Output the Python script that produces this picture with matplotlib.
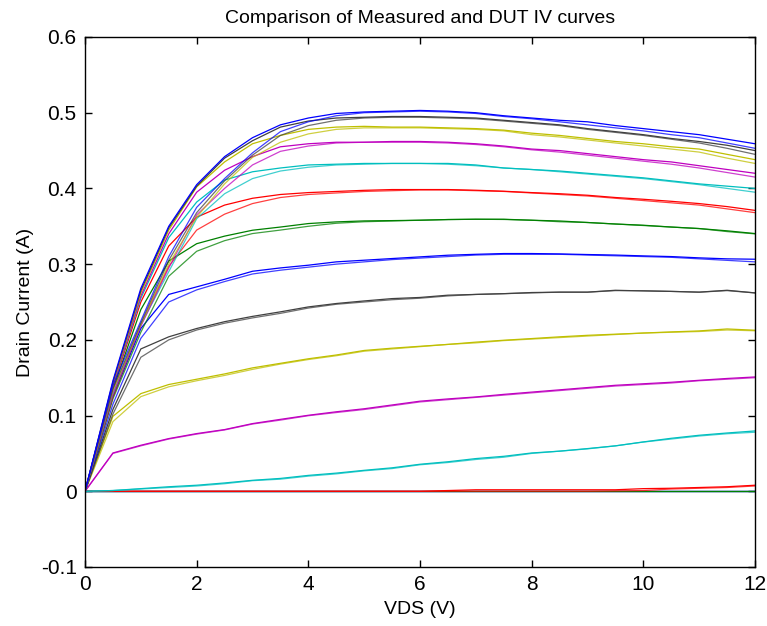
import matplotlib
matplotlib.use("Agg")
import matplotlib.pyplot as plt
import numpy as np

plt.rcParams['font.family'] = ['Liberation Sans', 'DejaVu Sans']

vds = np.arange(0, 12.01, 0.5)

# Gate-voltage levels from lowest to highest; each has a measured and a DUT curve
colors = ['b', 'g', 'r', 'c', 'm', 'y', 'k', 'b', 'g', 'r', 'c', 'm', 'y', 'k', 'b']

zero = [0.0] * 25

red1_meas = [0]*13 + [.001, .002, .002, .002, .002, .002, .002, .0035, .004, .005, .006, .008]
red1_dut  = [0]*19 + [.0005, .001, .003, .004, .005, .007]

cyan2_meas = [0, .001, .0035, .006, .008, .011, .0145, .017, .021, .024, .0277, .031, .0357, .039, .0432, .0462, .0506, .053, .0564, .060, .0652, .070, .074, .077, .0797]
cyan2_dut  = [0, .001, .003, .005, .007, .010, .014, .016, .020, .023, .027, .030, .035, .038, .042, .045, .050, .053, .056, .060, .065, .069, .073, .076, .078]

mag3_meas = [0, .0506, .0608, .0696, .0762, .0815, .0894, .095, .1004, .105, .109, .114, .119, .122, .1246, .128, .131, .134, .137, .140, .142, .144, .1466, .149, .151]
mag3_dut  = [0, .0500, .0600, .0690, .0755, .0810, .0888, .094, .0998, .104, .108, .113, .118, .121, .1240, .127, .130, .133, .136, .139, .141, .143, .1460, .148, .150]

yel4_meas = [0, .099, .129, .141, .148, .155, .163, .169, .175, .180, .186, .189, .1915, .194, .197, .1995, .2017, .204, .206, .2075, .209, .2105, .2118, .2144, .2127]
yel4_dut  = [0, .092, .125, .138, .146, .153, .161, .168, .174, .179, .185, .188, .191, .194, .196, .199, .201, .203, .205, .207, .209, .210, .211, .213, .212]

blk5_meas = [0, .108, .188, .204, .215, .224, .231, .237, .2435, .248, .2514, .2545, .256, .259, .260, .261, .2625, .263, .263, .2655, .2646, .264, .263, .2655, .262]
blk5_dut  = [0, .102, .177, .200, .213, .222, .229, .235, .242, .247, .250, .253, .255, .258, .260, .261, .262, .263, .263, .265, .265, .264, .263, .265, .262]

blu6_meas = [0, .125, .215, .260, .270, .280, .2906, .295, .2986, .303, .3052, .3074, .3096, .3118, .313, .314, .314, .3135, .3127, .312, .3109, .310, .3083, .307, .3065]
blu6_dut  = [0, .115, .202, .250, .266, .277, .287, .292, .296, .300, .303, .306, .308, .310, .312, .313, .313, .313, .312, .311, .310, .309, .307, .305, .303]

grn7_meas = [0, .135, .240, .304, .327, .337, .3448, .349, .3536, .3558, .3571, .3575, .358, .3589, .3593, .3593, .358, .357, .355, .353, .3514, .349, .347, .344, .3404]
grn7_dut  = [0, .122, .210, .284, .317, .331, .3404, .345, .350, .354, .356, .357, .358, .3589, .3593, .359, .358, .356, .355, .353, .351, .349, .347, .343, .340]

red8_meas = [0, .138, .250, .324, .362, .378, .387, .392, .3945, .396, .3975, .3985, .3985, .3985, .3976, .3963, .3945, .393, .391, .388, .3857, .383, .380, .376, .371]
red8_dut  = [0, .125, .220, .297, .345, .366, .380, .388, .392, .394, .396, .397, .398, .398, .397, .396, .394, .392, .390, .387, .384, .381, .378, .373, .368]

cyn9_meas = [0, .140, .255, .335, .382, .411, .422, .427, .431, .432, .433, .433, .433, .433, .431, .427, .425, .423, .420, .417, .414, .410, .406, .403, .400]
cyn9_dut  = [0, .128, .220, .290, .360, .393, .413, .423, .428, .431, .432, .433, .433, .432, .430, .427, .425, .422, .419, .416, .413, .409, .405, .400, .395]

mag10_meas = [0, .141, .258, .340, .395, .424, .442, .455, .459, .461, .461, .462, .462, .461, .459, .456, .452, .450, .446, .442, .438, .435, .430, .425, .420]
mag10_dut  = [0, .130, .218, .295, .365, .400, .431, .449, .456, .460, .461, .461, .461, .460, .458, .455, .451, .448, .444, .440, .436, .432, .427, .421, .415]

yel11_meas = [0, .143, .262, .345, .402, .435, .459, .470, .478, .481, .482, .481, .481, .480, .479, .477, .473, .470, .466, .462, .459, .455, .452, .445, .438]
yel11_dut  = [0, .133, .220, .300, .362, .406, .441, .461, .472, .478, .480, .480, .480, .479, .478, .476, .471, .468, .464, .460, .456, .452, .448, .440, .433]

blk12_meas = [0, .144, .265, .348, .403, .440, .463, .481, .489, .493, .494, .495, .495, .494, .493, .490, .487, .484, .479, .475, .471, .466, .462, .457, .450]
blk12_dut  = [0, .135, .222, .305, .368, .410, .444, .470, .483, .490, .493, .494, .494, .493, .492, .489, .486, .483, .478, .474, .470, .465, .460, .453, .445]

blu13_meas = [0, .146, .268, .350, .405, .442, .467, .484, .493, .499, .501, .502, .503, .502, .500, .496, .493, .490, .488, .483, .479, .475, .471, .465, .459]
blu13_dut  = [0, .140, .225, .310, .375, .413, .447, .475, .488, .496, .500, .501, .502, .501, .499, .495, .492, .488, .484, .480, .476, .471, .467, .460, .453]

measured = [zero, zero, red1_meas, cyan2_meas, mag3_meas, yel4_meas, blk5_meas, blu6_meas,
            grn7_meas, red8_meas, cyn9_meas, mag10_meas, yel11_meas, blk12_meas, blu13_meas]
dut = [zero, zero, red1_dut, cyan2_dut, mag3_dut, yel4_dut, blk5_dut, blu6_dut,
       grn7_dut, red8_dut, cyn9_dut, mag10_dut, yel11_dut, blk12_dut, blu13_dut]

title = "Comparison of Measured and DUT IV curves"
xlabel = "VDS (V)"
ylabel = "Drain Current (A)"
xticks = [0, 2, 4, 6, 8, 10, 12]
yticks = [-0.1, 0, 0.1, 0.2, 0.3, 0.4, 0.5, 0.6]
yticklabels = ["-0.1", "0", "0.1", "0.2", "0.3", "0.4", "0.5", "0.6"]

cmap = {'b': (0, 0, 1), 'g': (0, 0.5, 0), 'r': (1, 0, 0), 'c': (0, 0.75, 0.75),
        'm': (0.75, 0, 0.75), 'y': (0.75, 0.75, 0), 'k': (0.25, 0.25, 0.25)}

fig = plt.figure(figsize=(7.67, 6.26), dpi=100)
ax = fig.add_axes([85/767, 1 - 567/626, (755-85)/767, (567-37)/626])

for c, m, d in zip(colors, measured, dut):
    ax.plot(vds, m, color=cmap[c], lw=0.9)
    ax.plot(vds, d, color=cmap[c], lw=0.9, alpha=0.75)

ax.set_xlim(0, 12)
ax.set_ylim(-0.1, 0.6)
ax.set_xticks(xticks)
ax.set_xticklabels([str(t) for t in xticks])
ax.set_yticks(yticks)
ax.set_yticklabels(yticklabels)
ax.tick_params(direction='in', length=5, width=1, top=True, right=True, labelsize=15, pad=6)
for s in ax.spines.values():
    s.set_linewidth(1.0)
ax.set_title(title, fontsize=14, pad=10)
ax.set_xlabel(xlabel, fontsize=14, labelpad=5)
ax.set_ylabel(ylabel, fontsize=14, labelpad=5)

fig.savefig("out.png", dpi=100)
